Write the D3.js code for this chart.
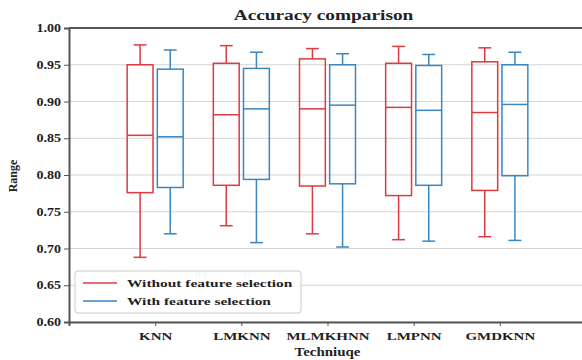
<!DOCTYPE html>
<html lang="en">
<head>
<meta charset="UTF-8">
<title>Accuracy comparison</title>
<script src="https://d3js.org/d3.v7.min.js"></script>
<style>
    html, body { margin: 0; padding: 0; background: #fff; }
    text { font-family: "Liberation Serif", "Times New Roman", serif; font-weight: bold; fill: #222; }
</style>
</head>
<body>
<div id="chart"></div>
<script>
    // data: [lower whisker, Q1, median, Q3, upper whisker]
    var techniques = ["KNN", "LMKNN", "MLMKHNN", "LMPNN", "GMDKNN"];
    var seriesNames = ["Without feature selection", "With feature selection"];
    var withoutFS = [
        [0.688, 0.776, 0.854, 0.950, 0.977],
        [0.731, 0.786, 0.882, 0.952, 0.976],
        [0.720, 0.785, 0.890, 0.958, 0.972],
        [0.712, 0.772, 0.892, 0.952, 0.975],
        [0.716, 0.779, 0.885, 0.954, 0.973]
    ];
    var withFS = [
        [0.720, 0.783, 0.852, 0.944, 0.970],
        [0.708, 0.794, 0.890, 0.945, 0.967],
        [0.702, 0.788, 0.895, 0.950, 0.965],
        [0.710, 0.786, 0.888, 0.949, 0.964],
        [0.711, 0.799, 0.896, 0.950, 0.967]
    ];
    var yTicks = [0.60, 0.65, 0.70, 0.75, 0.80, 0.85, 0.90, 0.95, 1.00];
    var colors = ["#dc3a44", "#3a86c2"];

    var W = 582, H = 360;
    var margin = {top: 28, left: 69, bottom: 38};
    var sx = 1.36; // the original figure is stretched sideways

    var svg = d3.select("#chart").append("svg")
        .attr("width", W).attr("height", H);

    // x in matplotlib-like units: ticks at 0,2,4.. and xlim(-2, 10)
    var x = d3.scaleLinear().domain([-2, techniques.length * 2]).range([margin.left, 586]);
    var y = d3.scaleLinear().domain([0.60, 1.00]).range([H - margin.bottom, margin.top]);

    var offset = 0.35, boxW = 0.6;

    function label(tx, ty, txt, size, scaleX, anchor) {
        return svg.append("text")
            .attr("transform", "translate(" + tx + "," + ty + ") scale(" + scaleX + ",1)")
            .attr("text-anchor", anchor || "middle")
            .attr("font-size", size).text(txt);
    }

    // grid
    svg.append("g").selectAll("line").data(yTicks).enter().append("line")
        .attr("x1", x(-2)).attr("x2", W)
        .attr("y1", function(d){ return y(d); }).attr("y2", function(d){ return y(d); })
        .attr("stroke", "#d4d4d4").attr("stroke-width", 1.2);

    // axes
    var yAxis = svg.append("g")
        .attr("transform", "translate(" + x(-2) + ",0)")
        .call(d3.axisLeft(y).tickValues(yTicks).tickFormat(d3.format(".2f")).tickSize(5).tickPadding(3));
    var xAxis = svg.append("g")
        .attr("transform", "translate(0," + y(0.60) + ")")
        .call(d3.axisBottom(x).tickValues(techniques.map(function(d, i){ return i * 2; }))
            .tickFormat(function(d, i){ return techniques[i]; }).tickSize(4).tickPadding(6));
    [yAxis, xAxis].forEach(function(a){
        a.select(".domain").attr("stroke", "#555").attr("stroke-width", 2);
        a.selectAll(".tick line").attr("stroke", "#555");
        a.selectAll("text").attr("font-size", 11.5).attr("fill", "#222");
    });
    yAxis.selectAll(".tick text").attr("transform", "scale(1.22,1)").attr("x", -8 / 1.22);
    xAxis.selectAll(".tick text").attr("font-size", 11).attr("transform", "scale(" + sx + ",1)");
    // top spine
    svg.append("line")
        .attr("x1", x(-2)).attr("x2", W).attr("y1", y(1.0)).attr("y2", y(1.0))
        .attr("stroke", "#555").attr("stroke-width", 2);

    function drawBoxes(data, shift, color) {
        var g = svg.append("g").attr("stroke", color).attr("stroke-width", 1.5).attr("fill", "none");
        data.forEach(function(s, i){
            var cx = i * 2 + shift;
            var xl = x(cx - boxW / 2), xr = x(cx + boxW / 2);
            var cl = x(cx - boxW / 4), cr = x(cx + boxW / 4);
            // whiskers
            g.append("line").attr("x1", x(cx)).attr("x2", x(cx)).attr("y1", y(s[0])).attr("y2", y(s[1]));
            g.append("line").attr("x1", x(cx)).attr("x2", x(cx)).attr("y1", y(s[3])).attr("y2", y(s[4]));
            // caps
            g.append("line").attr("x1", cl).attr("x2", cr).attr("y1", y(s[0])).attr("y2", y(s[0]));
            g.append("line").attr("x1", cl).attr("x2", cr).attr("y1", y(s[4])).attr("y2", y(s[4]));
            // box
            g.append("rect").attr("x", xl).attr("y", y(s[3]))
                .attr("width", xr - xl).attr("height", y(s[1]) - y(s[3]));
            // median
            g.append("line").attr("x1", xl).attr("x2", xr).attr("y1", y(s[2])).attr("y2", y(s[2]));
        });
    }
    drawBoxes(withoutFS, -offset, colors[0]);
    drawBoxes(withFS, offset, colors[1]);

    // legend
    var lg = svg.append("g").attr("transform", "translate(75,271)");
    lg.append("rect").attr("width", 226).attr("height", 42).attr("rx", 3)
        .attr("fill", "#fff").attr("fill-opacity", 0.85).attr("stroke", "#ccc");
    seriesNames.forEach(function(n, i){
        lg.append("line").attr("x1", 8).attr("x2", 42).attr("y1", 12 + i * 18).attr("y2", 12 + i * 18)
            .attr("stroke", colors[i]).attr("stroke-width", 1.5);
        lg.append("text")
            .attr("transform", "translate(52," + (16 + i * 18) + ") scale(1.4,1)")
            .attr("font-size", 11).text(n);
    });

    // titles
    label(x(4) - 4, 19.5, "Accuracy comparison", 14, 1.38);
    label(x(4), 356, "Techniuqe", 11.5, 1.3);
    svg.append("text").attr("transform", "translate(17," + (y(0.80) + 1) + ") rotate(-90)")
        .attr("text-anchor", "middle").attr("font-size", 12).text("Range");
</script>
</body>
</html>
